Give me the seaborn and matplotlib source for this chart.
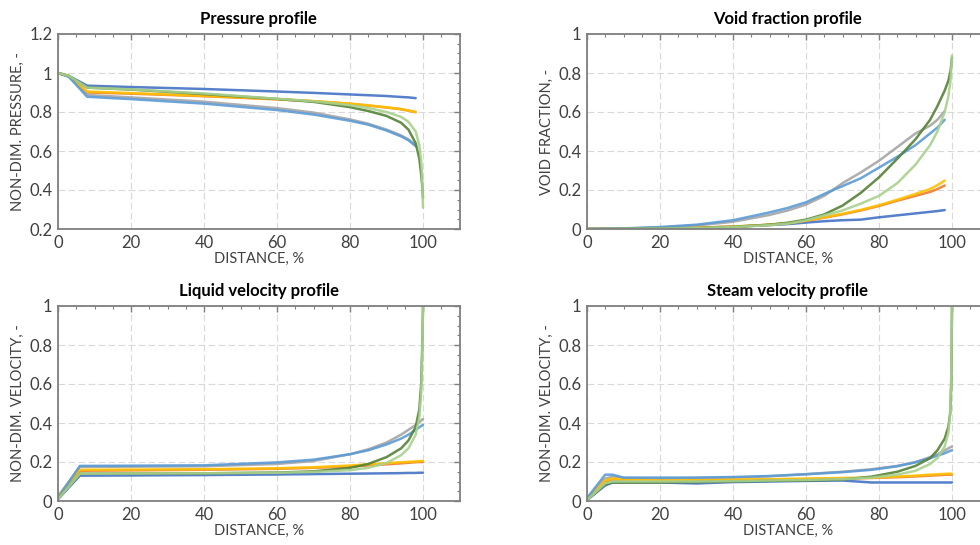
import numpy as np
import pandas as pd
import seaborn as sns
import matplotlib.pyplot as plt
from matplotlib.ticker import MultipleLocator

# series names and colours
series = ["s1", "s2", "s3", "s4", "s5", "s6", "s7"]
colors = ["#4472C4", "#ED7D31", "#A5A5A5", "#FFC000", "#5B9BD5", "#548235", "#A9D18E"]

# Pressure profile
p_x = [0, 3, 8, 20, 40, 60, 70, 80, 85, 90, 94, 96, 98, 99, 99.5, 99.8, 100]
p_s1 = [1.0, 0.985, 0.935, 0.928, 0.918, 0.905, 0.898, 0.89, 0.886, 0.882, 0.877, 0.875, 0.871]
p_s2 = [1.0, 0.983, 0.900, 0.894, 0.881, 0.865, 0.855, 0.842, 0.833, 0.823, 0.814, 0.807, 0.799]
p_s3 = [1.0, 0.982, 0.887, 0.875, 0.853, 0.820, 0.797, 0.762, 0.740, 0.710, 0.680, 0.660, 0.630]
p_s4 = [1.0, 0.983, 0.905, 0.897, 0.883, 0.866, 0.856, 0.843, 0.834, 0.824, 0.815, 0.808, 0.800]
p_s5 = [1.0, 0.980, 0.878, 0.866, 0.843, 0.810, 0.787, 0.755, 0.735, 0.705, 0.675, 0.655, 0.625]
p_s6 = [1.0, 0.985, 0.925, 0.915, 0.892, 0.867, 0.852, 0.825, 0.805, 0.780, 0.745, 0.710, 0.640, 0.560, 0.480, 0.420, 0.360]
p_s7 = [1.0, 0.985, 0.925, 0.916, 0.895, 0.868, 0.855, 0.835, 0.820, 0.800, 0.775, 0.750, 0.700, 0.630, 0.550, 0.450, 0.310]

# Void fraction profile
v_x = [0, 10, 20, 30, 40, 50, 55, 60, 65, 70, 75, 80, 85, 90, 94, 96, 98, 99, 99.6, 100]
v_s1 = [0, 0.001, 0.003, 0.007, 0.012, 0.020, 0.025, 0.033, 0.040, 0.045, 0.048, 0.060, 0.070, 0.080, 0.088, 0.092, 0.097]
v_s2 = [0, 0.001, 0.003, 0.006, 0.012, 0.022, 0.030, 0.042, 0.058, 0.075, 0.095, 0.118, 0.145, 0.170, 0.190, 0.205, 0.223]
v_s3 = [0, 0.002, 0.008, 0.018, 0.037, 0.072, 0.095, 0.125, 0.170, 0.235, 0.290, 0.350, 0.420, 0.490, 0.530, 0.560, 0.605]
v_s4 = [0, 0.001, 0.003, 0.006, 0.012, 0.022, 0.030, 0.043, 0.060, 0.078, 0.098, 0.122, 0.150, 0.180, 0.205, 0.225, 0.248]
v_s5 = [0, 0.003, 0.010, 0.022, 0.045, 0.085, 0.108, 0.137, 0.180, 0.220, 0.260, 0.315, 0.370, 0.430, 0.490, 0.520, 0.560]
v_s6 = [0, 0.001, 0.002, 0.004, 0.010, 0.022, 0.032, 0.048, 0.075, 0.120, 0.185, 0.265, 0.360, 0.460, 0.560, 0.630, 0.710, 0.760, 0.810, 0.880]
v_s7 = [0, 0.001, 0.002, 0.004, 0.010, 0.020, 0.028, 0.044, 0.070, 0.095, 0.130, 0.170, 0.235, 0.330, 0.430, 0.500, 0.600, 0.680, 0.760, 0.890]

# Liquid velocity profile
l_x = [0, 6, 20, 40, 60, 70, 80, 85, 90, 94, 96, 98, 99, 99.5, 99.8, 100]
l_s1 = [0.010, 0.130, 0.131, 0.133, 0.136, 0.138, 0.140, 0.141, 0.142, 0.143, 0.144, 0.144, 0.145, 0.145, 0.145, 0.145]
l_s2 = [0.020, 0.155, 0.157, 0.160, 0.165, 0.170, 0.177, 0.182, 0.188, 0.193, 0.196, 0.199, 0.200, 0.200, 0.200, 0.200]
l_s3 = [0.025, 0.175, 0.176, 0.178, 0.190, 0.205, 0.240, 0.265, 0.300, 0.340, 0.365, 0.390, 0.405, 0.413, 0.418, 0.420]
l_s4 = [0.020, 0.160, 0.161, 0.163, 0.168, 0.173, 0.182, 0.188, 0.194, 0.199, 0.201, 0.203, 0.204, 0.205, 0.205, 0.205]
l_s5 = [0.015, 0.180, 0.181, 0.183, 0.198, 0.212, 0.240, 0.260, 0.290, 0.320, 0.340, 0.365, 0.378, 0.385, 0.388, 0.390]
l_s6 = [0.010, 0.140, 0.141, 0.142, 0.146, 0.152, 0.170, 0.190, 0.225, 0.270, 0.310, 0.380, 0.470, 0.600, 0.800, 1.000]
l_s7 = [0.010, 0.140, 0.141, 0.142, 0.145, 0.149, 0.158, 0.170, 0.195, 0.235, 0.270, 0.340, 0.430, 0.550, 0.750, 1.020]

# Steam velocity profile
g_x = [0, 5, 7, 10, 20, 30, 40, 50, 60, 70, 78, 85, 90, 94, 96, 98, 99, 99.5, 99.8, 100]
g_s1 = [0.005, 0.080, 0.095, 0.095, 0.095, 0.090, 0.097, 0.100, 0.103, 0.105, 0.095, 0.095, 0.095, 0.095, 0.095, 0.095, 0.095, 0.095, 0.095, 0.095]
g_s2 = [0.010, 0.100, 0.110, 0.108, 0.105, 0.105, 0.107, 0.109, 0.112, 0.115, 0.118, 0.122, 0.126, 0.130, 0.132, 0.134, 0.135, 0.135, 0.135, 0.135]
g_s3 = [0.010, 0.115, 0.125, 0.118, 0.115, 0.118, 0.120, 0.127, 0.138, 0.150, 0.163, 0.180, 0.200, 0.225, 0.240, 0.260, 0.270, 0.275, 0.278, 0.280]
g_s4 = [0.010, 0.105, 0.115, 0.110, 0.105, 0.107, 0.110, 0.112, 0.115, 0.118, 0.120, 0.125, 0.130, 0.135, 0.137, 0.139, 0.140, 0.140, 0.140, 0.140]
g_s5 = [0.015, 0.135, 0.135, 0.120, 0.120, 0.120, 0.123, 0.128, 0.137, 0.148, 0.160, 0.178, 0.198, 0.220, 0.232, 0.245, 0.253, 0.257, 0.259, 0.260]
g_s6 = [0.005, 0.085, 0.095, 0.095, 0.095, 0.097, 0.100, 0.103, 0.105, 0.110, 0.125, 0.150, 0.180, 0.220, 0.260, 0.320, 0.380, 0.450, 0.600, 1.000]
g_s7 = [0.005, 0.090, 0.100, 0.100, 0.100, 0.100, 0.102, 0.105, 0.108, 0.112, 0.120, 0.135, 0.155, 0.190, 0.220, 0.280, 0.350, 0.450, 0.650, 1.020]

titles = ["Pressure profile", "Void fraction profile", "Liquid velocity profile", "Steam velocity profile"]
ylabels = ["NON-DIM. PRESSURE, -", "VOID FRACTION, -", "NON-DIM. VELOCITY, -", "NON-DIM. VELOCITY, -"]
xlabel = "DISTANCE, %"


def to_frame(x, ys):
    # long table, series that stop early are cut to their own length
    rows = []
    for name, y in zip(series, ys):
        for xi, yi in zip(x, y):
            rows.append((name, xi, yi))
    return pd.DataFrame(rows, columns=["series", "x", "y"])


panels = [
    (to_frame(p_x, [p_s1, p_s2, p_s3, p_s4, p_s5, p_s6, p_s7]), (0.2, 1.2)),
    (to_frame(v_x, [v_s1, v_s2, v_s3, v_s4, v_s5, v_s6, v_s7]), (0, 1)),
    (to_frame(l_x, [l_s1, l_s2, l_s3, l_s4, l_s5, l_s6, l_s7]), (0, 1)),
    (to_frame(g_x, [g_s1, g_s2, g_s3, g_s4, g_s5, g_s6, g_s7]), (0, 1)),
]

sns.set_style("white")
plt.rcParams["font.family"] = ["Lato", "DejaVu Sans"]

fig = plt.figure(figsize=(9.8, 5.45), dpi=100)
W, H = 980, 545
# right-hand panels run past the right edge, as in the source image
boxes = [(58, 34), (587, 34), (58, 306), (587, 306)]
aw, ah = 401.5, 195

for i, ((df, ylim), (left, top)) in enumerate(zip(panels, boxes)):
    ax = fig.add_axes([left / W, 1 - (top + ah) / H, aw / W, ah / H])
    sns.lineplot(data=df, x="x", y="y", hue="series", palette=colors,
                 hue_order=series, linewidth=1.8, alpha=0.9, legend=False,
                 ax=ax, sort=False, estimator=None)
    ax.set_xlim(0, 110)
    ax.set_ylim(*ylim)
    ax.xaxis.set_minor_locator(MultipleLocator(5))
    ax.yaxis.set_major_locator(MultipleLocator(0.2))
    ax.yaxis.set_minor_locator(MultipleLocator(0.05))
    ax.set_xticks([0, 20, 40, 60, 80, 100])
    ax.set_xticklabels(["0", "20", "40", "60", "80", "100"])
    yt = [t for t in ax.get_yticks() if ylim[0] - 1e-9 <= t <= ylim[1] + 1e-9]
    ax.set_yticks(yt)
    ax.set_yticklabels([("%.1f" % t).rstrip("0").rstrip(".") if abs(t) > 1e-9 else "0" for t in yt])
    ax.grid(True, which="major", color="#d9d9d9", linestyle=(0, (6, 3)), linewidth=0.8)
    ax.tick_params(which="both", direction="in", top=True, right=True,
                   color="#7f7f7f", labelsize=12, labelcolor="#404040", pad=4)
    ax.tick_params(which="major", length=4, width=1)
    ax.tick_params(which="minor", length=2.5, width=0.8)
    for s in ax.spines.values():
        s.set_color("#7f7f7f")
        s.set_linewidth(1.3)
    ax.set_title(titles[i], fontsize=12, fontweight="bold", color="black", pad=7)
    ax.set_xlabel(xlabel, fontsize=10.5, color="#404040", labelpad=1)
    ax.set_ylabel(ylabels[i], fontsize=10.5, color="#404040", labelpad=3)

plt.savefig("out.png", dpi=100)
